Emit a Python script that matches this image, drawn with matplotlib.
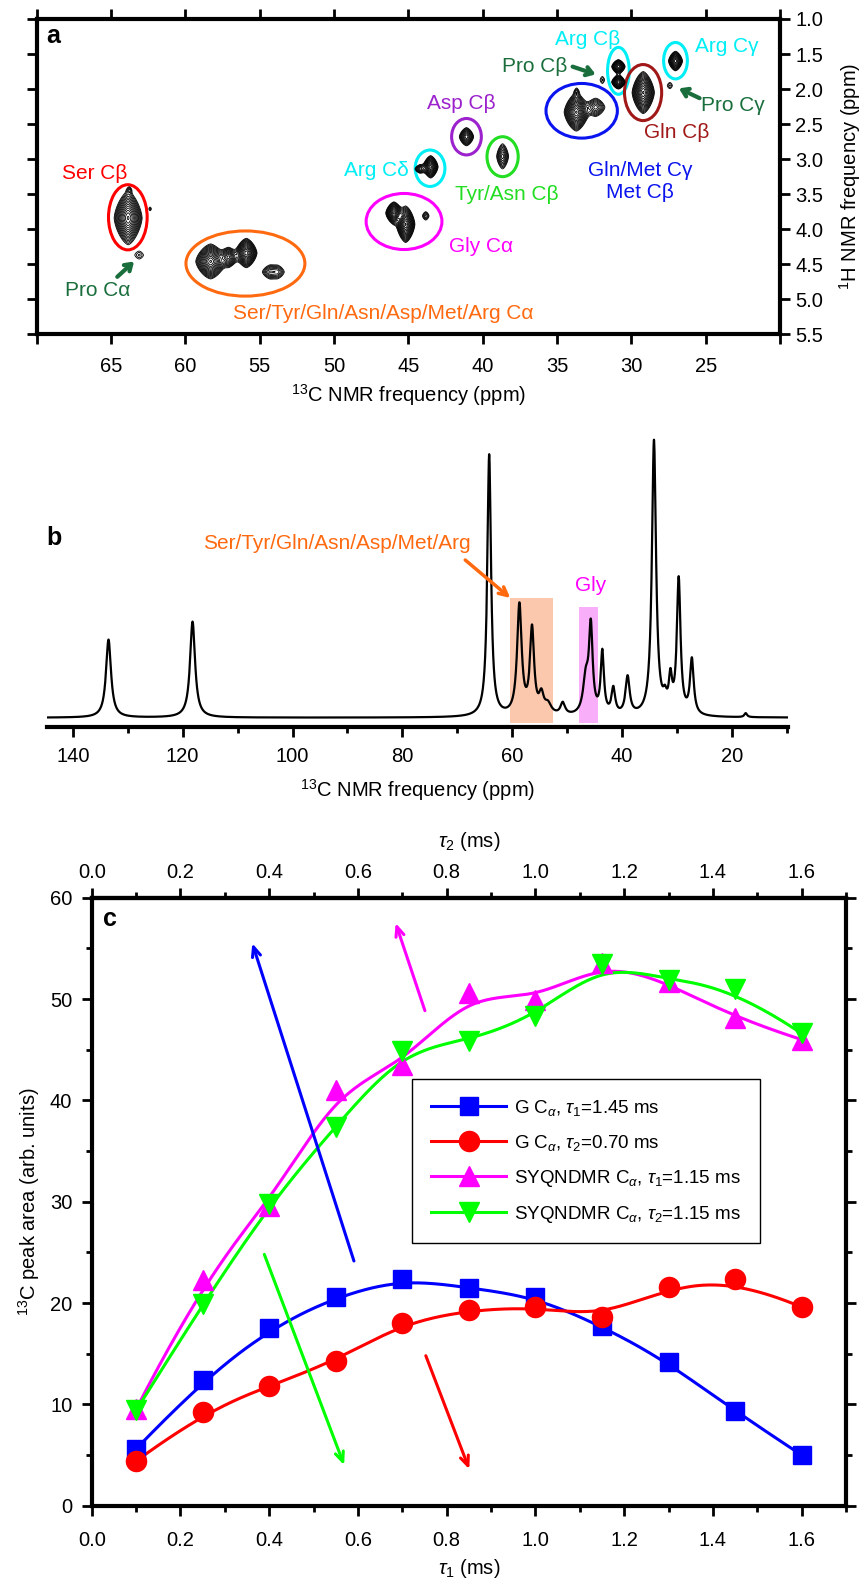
import numpy as np
import matplotlib
matplotlib.use('Agg')
import matplotlib.pyplot as plt
from matplotlib.patches import Ellipse, Rectangle
from matplotlib.lines import Line2D
from matplotlib.ticker import MultipleLocator, FixedLocator, FormatStrFormatter

plt.rcParams['font.family'] = ['Liberation Sans', 'DejaVu Sans']
plt.rcParams['mathtext.fontset'] = 'custom'
plt.rcParams['mathtext.rm'] = 'Liberation Sans'
plt.rcParams['mathtext.it'] = 'Liberation Sans:italic'
plt.rcParams['mathtext.bf'] = 'Liberation Sans:bold'

# ---- panel a: 2D 1H-13C cross peaks (13C ppm, 1H ppm, half extent C, half extent H, amplitude)
peak_c = [63.85, 63.77, 62.37, 63.10, 58.30, 55.90, 57.10, 54.30, 53.80,
          45.97, 45.18, 43.83, 43.50, 44.20, 41.09, 38.66, 33.70, 32.40,
          33.68, 31.95, 30.87, 30.87, 29.20, 27.03, 27.41]
peak_h = [3.84, 3.44, 3.71, 4.37, 4.46, 4.34, 4.40, 4.61, 4.61,
          3.77, 3.93, 3.81, 3.11, 3.14, 2.68, 2.96, 2.33, 2.26,
          2.04, 1.87, 1.68, 1.90, 2.05, 1.60, 1.95]
peak_wc = [0.94, 0.08, 0.08, 0.28, 1.00, 0.72, 0.60, 0.50, 0.40,
           0.55, 0.62, 0.22, 0.50, 0.35, 0.48, 0.40, 0.82, 0.62,
           0.10, 0.15, 0.45, 0.45, 0.75, 0.47, 0.17]
peak_wh = [0.38, 0.025, 0.025, 0.055, 0.25, 0.21, 0.14, 0.09, 0.08,
           0.16, 0.26, 0.06, 0.16, 0.06, 0.13, 0.18, 0.27, 0.13,
           0.04, 0.05, 0.10, 0.10, 0.30, 0.14, 0.045]
peak_amp = [1.0, 0.07, 0.07, 0.08, 1.0, 0.9, 0.45, 0.15, 0.12,
            0.8, 1.0, 0.12, 0.7, 0.2, 0.4, 0.25, 1.0, 0.25,
            0.08, 0.08, 0.6, 0.6, 1.0, 0.6, 0.08]

# ---- panel b: 1D 13C spectrum peaks
spec_ppm = [133.5, 118.2, 64.2, 58.7, 56.4, 54.7, 53.5, 50.8, 46.6, 45.7,
            43.6, 41.6, 39.0, 34.2, 32.2, 31.2, 29.7, 27.3, 17.5]
spec_height = [78, 96, 262, 110, 85, 18, 10, 12, 35, 85,
               62, 26, 38, 275, 12, 32, 135, 55, 4]
spec_fwhm = [1.1, 1.1, 0.8, 1.0, 0.9, 1.0, 1.5, 1.0, 1.2, 0.8,
             0.7, 0.8, 0.9, 0.9, 0.8, 0.7, 0.8, 0.8, 0.6]

# ---- panel c: buildup curves
tau = [0.1, 0.25, 0.4, 0.55, 0.7, 0.85, 1.0, 1.15, 1.3, 1.45, 1.6]
g_tau1 = [5.6, 12.4, 17.5, 20.6, 22.4, 21.5, 20.6, 17.7, 14.2, 9.3, 5.0]
g_tau2 = [4.4, 9.2, 11.8, 14.3, 18.0, 19.3, 19.6, 18.65, 21.6, 22.35, 19.6]
syq_tau1 = [9.5, 22.3, 29.6, 41.0, 43.5, 50.6, 49.9, 53.6, 51.7, 48.1, 46.0]
syq_tau2 = [9.4, 19.9, 29.8, 37.4, 44.9, 45.9, 48.3, 53.5, 51.9, 51.0, 46.6]
series_labels = [r'G C$_\alpha$, $\tau_1$=1.45 ms',
                 r'G C$_\alpha$, $\tau_2$=0.70 ms',
                 r'SYQNDMR C$_\alpha$, $\tau_1$=1.15 ms',
                 r'SYQNDMR C$_\alpha$, $\tau_2$=1.15 ms']

W, H = 863, 1578
TICK_FS = 14.5
ANN_FS = 15
DKGREEN = '#1A6E3C'
CYAN = '#00EEF5'


def bspline_curve(x, y, n_out=400, k=3):
    # clamped uniform B-spline with the data points as control points
    pts = np.column_stack([x, y]).astype(float)
    n = len(pts)
    knots = np.concatenate([np.zeros(k), np.linspace(0, 1, n - k + 1), np.ones(k)])
    t = np.linspace(0, 1, n_out)
    t[-1] -= 1e-9
    N = np.array([((knots[i] <= t) & (t < knots[i + 1])).astype(float)
                  for i in range(len(knots) - 1)])
    for d in range(1, k + 1):
        nn = np.zeros((len(knots) - 1 - d, len(t)))
        for i in range(len(knots) - 1 - d):
            den1 = knots[i + d] - knots[i]
            den2 = knots[i + d + 1] - knots[i + 1]
            if den1 > 0:
                nn[i] += (t - knots[i]) / den1 * N[i]
            if den2 > 0:
                nn[i] += (knots[i + d + 1] - t) / den2 * N[i + 1]
        N = nn
    curve = N.T @ pts
    return curve[:, 0], curve[:, 1]


def style_ticks(ax, pad=4, **kw):
    ax.tick_params(which='major', direction='out', length=7, width=2,
                   labelsize=TICK_FS, pad=pad, **kw)
    ax.tick_params(which='minor', direction='out', length=4, width=2, **kw)


fig = plt.figure(figsize=(W / 100, H / 100), dpi=100)

# ================= panel a =================
ax_a = fig.add_axes([36.7 / W, 1 - 334.3 / H, 743.3 / W, 315.3 / H])
cc = np.linspace(20, 70, 1500)
hh = np.linspace(1.0, 5.5, 1000)
C, Hg = np.meshgrid(cc, hh)
Z = np.zeros_like(C)
LEVEL0, P = 0.05, 1.5
for c0, h0, wc, wh, a in zip(peak_c, peak_h, peak_wc, peak_wh, peak_amp):
    r = np.log(a / LEVEL0) ** (1 / P)
    Z += a * np.exp(-(np.abs((C - c0) / (wc / r)) ** P + np.abs((Hg - h0) / (wh / r)) ** P))
ax_a.contour(C, Hg, Z, levels=np.geomspace(LEVEL0, 0.95, 15), colors='black', linewidths=0.6)

ellipses = [
    (63.87, 3.83, 2.6, 0.93, 'red'),
    (55.96, 4.49, 8.0, 0.93, '#FF6A10'),
    (45.29, 3.89, 5.1, 0.80, '#FF00FF'),
    (43.54, 3.13, 2.0, 0.52, CYAN),
    (41.09, 2.68, 2.0, 0.52, '#9B22CC'),
    (38.66, 2.965, 2.1, 0.57, '#22DD22'),
    (33.34, 2.31, 4.8, 0.78, '#0A14EE'),
    (30.87, 1.74, 1.46, 0.67, CYAN),
    (29.21, 2.05, 2.5, 0.80, '#A01818'),
    (27.03, 1.595, 1.6, 0.52, CYAN),
]
for x0, y0, w, h, col in ellipses:
    ax_a.add_patch(Ellipse((x0, y0), w, h, fill=False, ec=col, lw=2.2))

labels_a = [
    (66.07, 3.20, 'Ser Cβ', 'red'),
    (65.90, 4.87, 'Pro Cα', DKGREEN),
    (46.72, 5.21, 'Ser/Tyr/Gln/Asn/Asp/Met/Arg Cα', '#FF6A10'),
    (47.13, 3.165, 'Arg Cδ', CYAN),
    (41.47, 2.20, 'Asp Cβ', '#9B22CC'),
    (38.37, 3.50, 'Tyr/Asn Cβ', '#22DD22'),
    (40.13, 4.25, 'Gly Cα', '#FF00FF'),
    (29.39, 3.32, 'Gln/Met Cγ\nMet Cβ', '#0A14EE'),
    (26.92, 2.62, 'Gln Cβ', '#A01818'),
    (23.17, 2.24, 'Pro Cγ', DKGREEN),
    (23.58, 1.395, 'Arg Cγ', CYAN),
    (32.94, 1.29, 'Arg Cβ', CYAN),
    (36.47, 1.68, 'Pro Cβ', DKGREEN),
]
for x0, y0, s, col in labels_a:
    ax_a.text(x0, y0, s, color=col, fontsize=ANN_FS, ha='center', va='center',
              multialignment='center', linespacing=1.15)

arrows_a = [((64.58, 4.68), (63.45, 4.46)),
            ((33.95, 1.68), (32.40, 1.79)),
            ((25.41, 2.13), (26.80, 1.99))]
for tail, head in arrows_a:
    ax_a.annotate('', xy=head, xytext=tail,
                  arrowprops=dict(arrowstyle='->,head_length=0.45,head_width=0.3',
                                  lw=3, color=DKGREEN, shrinkA=0, shrinkB=0))

ax_a.set_xlim(70, 20)
ax_a.set_ylim(5.5, 1.0)
xt = np.arange(20, 71, 5)
ax_a.set_xticks(xt)
ax_a.set_xticklabels(['' if v in (20, 70) else str(v) for v in xt])
ax_a.set_yticks(np.arange(1.0, 5.51, 0.5))
ax_a.yaxis.set_major_formatter(FormatStrFormatter('%.1f'))
style_ticks(ax_a, top=True, bottom=True, left=True, right=True,
            labelleft=False, labelright=True)
ax_a.tick_params(axis='x', pad=9.5)
for sp in ax_a.spines.values():
    sp.set_linewidth(3)
ax_a.set_xlabel(r'$^{13}$C NMR frequency (ppm)', fontsize=TICK_FS, labelpad=4)
ax_a.yaxis.set_label_position('right')
ax_a.set_ylabel(r'$^{1}$H NMR frequency (ppm)', fontsize=TICK_FS, labelpad=10)
ax_a.text(0.022, 0.947, 'a', transform=ax_a.transAxes, fontsize=18,
          fontweight='bold', ha='center', va='center')

# ================= panel b =================
ax_b = fig.add_axes([47 / W, 1 - 726.7 / H, 741 / W, 300.7 / H])
ppm = np.linspace(5, 150, 6000)
spec = np.zeros_like(ppm)
for p0, h0, fw in zip(spec_ppm, spec_height, spec_fwhm):
    hw = fw / 2
    spec += h0 * hw ** 2 / ((ppm - p0) ** 2 + hw ** 2)
ax_b.add_patch(Rectangle((52.5, -5), 8.0, 125, fc='#FBC8AE', ec='none', zorder=0))
ax_b.add_patch(Rectangle((44.4, -5), 3.4, 115.4, fc='#F9AEF9', ec='none', zorder=0))
ax_b.plot(ppm, spec, color='black', lw=1.6, zorder=2)
ax_b.set_xlim(144.7, 9.8)
ax_b.set_ylim(-9, 291.7)
for side in ('left', 'right', 'top'):
    ax_b.spines[side].set_visible(False)
ax_b.spines['bottom'].set_linewidth(3)
ax_b.set_yticks([])
ax_b.xaxis.set_major_locator(MultipleLocator(20))
ax_b.xaxis.set_minor_locator(MultipleLocator(10))
style_ticks(ax_b, pad=7.5)
ax_b.set_xlabel(r'$^{13}$C NMR frequency (ppm)', fontsize=TICK_FS, labelpad=8)
ax_b.text(91.9, 174.7, 'Ser/Tyr/Gln/Asn/Asp/Met/Arg', color='#FF6A10',
          fontsize=ANN_FS, ha='center', va='center')
ax_b.text(45.8, 132, 'Gly', color='#FF00FF', fontsize=ANN_FS, ha='center', va='center')
ax_b.annotate('', xy=(60.36, 119.7), xytext=(68.56, 157.7),
              arrowprops=dict(arrowstyle='->,head_length=0.6,head_width=0.3',
                              lw=2.5, color='#FF6A10', shrinkA=0, shrinkB=0))
fig.text(54 / W, 1 - 538.3 / H, 'b', fontsize=18, fontweight='bold',
         ha='center', va='center')

# ================= panel c =================
ax_c = fig.add_axes([91.7 / W, 1 - 1505.7 / H, 754.3 / W, 608 / H])
series = [
    (g_tau1, '#0000FF', 's', 13),
    (g_tau2, '#FF0000', 'o', 14.5),
    (syq_tau1, '#FF00FF', '^', 15),
    (syq_tau2, '#00FF00', 'v', 15),
]
handles = []
for (vals, col, mk, ms), lab in zip(series, series_labels):
    bx, by = bspline_curve(tau, vals)
    ax_c.plot(bx, by, color=col, lw=2.2, zorder=2)
    ax_c.plot(tau, vals, ls='none', marker=mk, ms=ms, color=col, mec=col, zorder=3)
    handles.append(Line2D([], [], color=col, lw=2.2, marker=mk, ms=ms, label=lab))

arrows_c = [((0.591, 24.15), (0.362, 55.5), '#0000FF'),
            ((0.751, 48.85), (0.685, 57.5), '#FF00FF'),
            ((0.389, 24.8), (0.569, 4.0), '#00FF00'),
            ((0.753, 14.8), (0.851, 3.6), '#FF0000')]
for tail, head, col in arrows_c:
    ax_c.annotate('', xy=head, xytext=tail,
                  arrowprops=dict(arrowstyle='->,head_length=0.7,head_width=0.3',
                                  lw=2.2, color=col, shrinkA=0, shrinkB=0))

leg = ax_c.legend(handles=handles, loc='upper left', bbox_to_anchor=(0.425, 0.702),
                  fontsize=13.5, frameon=True, fancybox=False, edgecolor='black',
                  framealpha=1, handlelength=4.0, handletextpad=0.45,
                  labelspacing=0.8, borderpad=1.0, borderaxespad=0)
leg.get_frame().set_linewidth(1.0)

ax_c.set_xlim(0, 1.7)
ax_c.set_ylim(0, 60)
xmaj = np.arange(0, 1.61, 0.2)
xmin = np.arange(0.1, 1.71, 0.2)
ax_c.xaxis.set_major_locator(FixedLocator(xmaj))
ax_c.xaxis.set_minor_locator(FixedLocator(xmin))
ax_c.xaxis.set_major_formatter(FormatStrFormatter('%.1f'))
ax_c.yaxis.set_major_locator(MultipleLocator(10))
ax_c.yaxis.set_minor_locator(MultipleLocator(5))
style_ticks(ax_c, left=True, right=True, bottom=True, top=False, labelright=False)
ax_c.tick_params(axis='x', which='major', pad=11)
ax_c.tick_params(axis='y', which='major', pad=7)
for sp in ax_c.spines.values():
    sp.set_linewidth(3)
ax_c.set_xlabel(r'$\tau_1$ (ms)', fontsize=TICK_FS, labelpad=5)
ax_c.set_ylabel(r'$^{13}$C peak area (arb. units)', fontsize=TICK_FS, labelpad=6)

sec = ax_c.secondary_xaxis('top')
sec.xaxis.set_major_locator(FixedLocator(xmaj))
sec.xaxis.set_minor_locator(FixedLocator(xmin))
sec.xaxis.set_major_formatter(FormatStrFormatter('%.1f'))
style_ticks(sec)
sec.spines['top'].set_linewidth(3)
sec.set_xlabel(r'$\tau_2$ (ms)', fontsize=TICK_FS, labelpad=12)

ax_c.text(0.0243, 0.965, 'c', transform=ax_c.transAxes, fontsize=18,
          fontweight='bold', ha='center', va='center')

fig.savefig('out.png', dpi=100)
